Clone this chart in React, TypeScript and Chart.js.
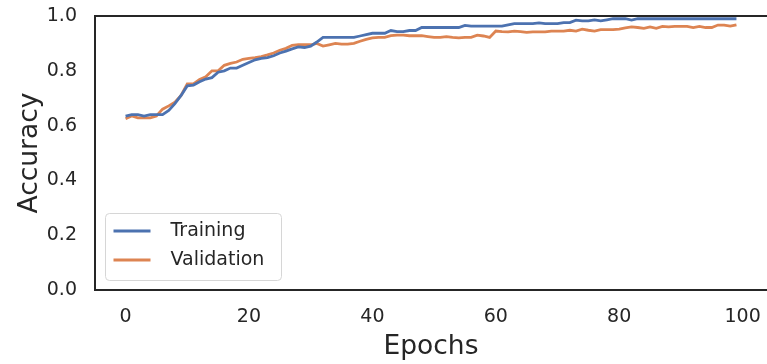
import React, { useEffect, useRef } from "react";
import { Chart, registerables } from "chart.js";

Chart.register(...registerables);

const epochs: number[] = Array.from({ length: 100 }, (_, i) => i);

const training: number[] = [
  0.635, 0.64, 0.64, 0.635, 0.64, 0.64, 0.64, 0.655, 0.68, 0.71,
  0.745, 0.748, 0.76, 0.77, 0.775, 0.795, 0.8, 0.81, 0.81, 0.82,
  0.83, 0.84, 0.845, 0.848, 0.855, 0.865, 0.872, 0.88, 0.887, 0.885,
  0.89, 0.905, 0.922, 0.922, 0.922, 0.922, 0.922, 0.922, 0.927, 0.932,
  0.937, 0.937, 0.937, 0.947, 0.943, 0.943, 0.947, 0.947, 0.958, 0.958,
  0.958, 0.958, 0.958, 0.958, 0.958, 0.966, 0.963, 0.963, 0.963, 0.963,
  0.963, 0.963, 0.968, 0.972, 0.972, 0.972, 0.972, 0.975, 0.972, 0.972,
  0.972, 0.976, 0.976, 0.985, 0.982, 0.982, 0.986, 0.982, 0.986, 0.99,
  0.99, 0.99, 0.985, 0.99, 0.99, 0.99, 0.99, 0.99, 0.99, 0.99,
  0.99, 0.99, 0.99, 0.99, 0.99, 0.99, 0.99, 0.99, 0.99, 0.99,
];

const validation: number[] = [
  0.625, 0.635, 0.628, 0.628, 0.628, 0.635, 0.66, 0.672, 0.685, 0.71,
  0.752, 0.752, 0.768, 0.778, 0.8, 0.8, 0.82, 0.827, 0.832, 0.842,
  0.845, 0.848, 0.852, 0.858, 0.865, 0.875, 0.882, 0.893, 0.895, 0.895,
  0.895, 0.9, 0.89, 0.895, 0.9, 0.897, 0.897, 0.9, 0.908, 0.915,
  0.92, 0.922, 0.922, 0.928, 0.93, 0.93, 0.928, 0.928, 0.928, 0.925,
  0.922, 0.922, 0.925, 0.922, 0.92, 0.922, 0.922, 0.93, 0.927, 0.922,
  0.945, 0.943, 0.942, 0.945, 0.943, 0.94, 0.942, 0.942, 0.942, 0.945,
  0.945, 0.945, 0.948, 0.945, 0.952, 0.948, 0.945, 0.95, 0.95, 0.95,
  0.952, 0.957, 0.96, 0.958, 0.955, 0.96, 0.955, 0.962, 0.96, 0.962,
  0.962, 0.962, 0.958, 0.962, 0.958, 0.958, 0.967, 0.967, 0.963, 0.968,
];

const xTicks: number[] = [0, 20, 40, 60, 80, 100];
const seriesNames: string[] = ["Training", "Validation"];
const seriesColors: string[] = ["#4C72B0", "#DD8452"];

const FONT = "'DejaVu Sans', sans-serif";
const INK = "#262626";

const spinesPlugin = {
  id: "spines",
  afterDatasetsDraw(chart: any) {
    const { ctx, chartArea } = chart;
    const { left, right, top, bottom } = chartArea;
    ctx.save();
    ctx.strokeStyle = INK;
    ctx.lineWidth = 2;
    ctx.lineCap = "butt";
    ctx.beginPath();
    ctx.moveTo(left, top);
    ctx.lineTo(right + 2, top);
    ctx.moveTo(left, top - 1);
    ctx.lineTo(left, bottom + 1);
    ctx.moveTo(left, bottom);
    ctx.lineTo(right + 2, bottom);
    ctx.stroke();
    ctx.restore();
  },
};

const legendPlugin = {
  id: "boxLegend",
  afterDraw(chart: any) {
    const { ctx, chartArea } = chart;
    const x0 = chartArea.left + 10.5;
    const y0 = chartArea.bottom - 76.5;
    const w = 176;
    const h = 67;
    const r = 4;
    ctx.save();
    ctx.beginPath();
    ctx.moveTo(x0 + r, y0);
    ctx.lineTo(x0 + w - r, y0);
    ctx.arcTo(x0 + w, y0, x0 + w, y0 + r, r);
    ctx.lineTo(x0 + w, y0 + h - r);
    ctx.arcTo(x0 + w, y0 + h, x0 + w - r, y0 + h, r);
    ctx.lineTo(x0 + r, y0 + h);
    ctx.arcTo(x0, y0 + h, x0, y0 + h - r, r);
    ctx.lineTo(x0, y0 + r);
    ctx.arcTo(x0, y0, x0 + r, y0, r);
    ctx.closePath();
    ctx.fillStyle = "rgba(255,255,255,0.8)";
    ctx.fill();
    ctx.strokeStyle = "#d6d6d6";
    ctx.lineWidth = 1;
    ctx.stroke();
    ctx.font = `19px ${FONT}`;
    ctx.textBaseline = "middle";
    ctx.textAlign = "left";
    chart.data.datasets.forEach((ds: any, i: number) => {
      const cy = y0 + 17.5 + i * 29;
      ctx.strokeStyle = ds.borderColor;
      ctx.lineWidth = 2.8;
      ctx.beginPath();
      ctx.moveTo(x0 + 8, cy);
      ctx.lineTo(x0 + 45, cy);
      ctx.stroke();
      ctx.fillStyle = INK;
      ctx.fillText(ds.label, x0 + 65, cy);
    });
    ctx.restore();
  },
};

export default function App() {
  const ref = useRef<HTMLCanvasElement>(null);
  useEffect(() => {
    if (!ref.current) return;
    const chart = new Chart(ref.current, {
      type: "line",
      data: {
        datasets: [training, validation].map((vals, k) => ({
          label: seriesNames[k],
          data: vals.map((v, i) => ({ x: epochs[i], y: v })),
          borderColor: seriesColors[k],
          backgroundColor: seriesColors[k],
          borderWidth: 2.8,
          pointRadius: 0,
          tension: 0,
        })),
      },
      options: {
        animation: false,
        responsive: false,
        devicePixelRatio: 1,
        layout: { padding: { top: 16, left: 0, right: 0, bottom: 0 } },
        plugins: { legend: { display: false }, tooltip: { enabled: false } },
        scales: {
          x: {
            type: "linear",
            min: -4.95,
            max: 103.95,
            grid: { display: false, drawTicks: false },
            border: { display: false },
            afterBuildTicks: (scale: any) => {
              scale.ticks = xTicks.map((v) => ({ value: v }));
            },
            afterFit: (scale: any) => {
              scale.height = 74;
              scale.paddingLeft = 0;
              scale.paddingRight = 0;
            },
            ticks: {
              autoSkip: false,
              maxRotation: 0,
              padding: 16,
              color: INK,
              font: { family: FONT, size: 19 },
              callback: (v: any) => String(v),
            },
            title: {
              display: true,
              text: "Epochs",
              color: INK,
              font: { family: FONT, size: 26.5 },
              padding: { top: 0, bottom: 1 },
            },
          },
          y: {
            min: 0,
            max: 1,
            grid: { display: false, drawTicks: false },
            border: { display: false },
            afterFit: (scale: any) => {
              scale.width = 95;
              scale.paddingTop = 0;
              scale.paddingBottom = 0;
            },
            ticks: {
              stepSize: 0.2,
              padding: 18,
              color: INK,
              font: { family: FONT, size: 19 },
              callback: (v: any) => Number(v).toFixed(1),
            },
            title: {
              display: true,
              text: "Accuracy",
              color: INK,
              font: { family: FONT, size: 26.5 },
              padding: { top: 14, bottom: 0 },
            },
          },
        },
      },
      plugins: [spinesPlugin, legendPlugin],
    });
    return () => chart.destroy();
  }, []);
  return (
    <div style={{ position: "fixed", left: 0, top: 0, width: 767, height: 364, background: "#fff" }}>
      <canvas ref={ref} width={767} height={364} style={{ display: "block" }} />
    </div>
  );
}
